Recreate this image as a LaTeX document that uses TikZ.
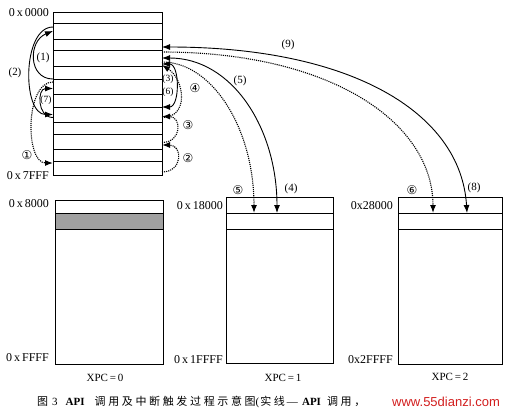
\documentclass[tikz,border=0pt]{standalone}
\usepackage{fontspec}
\setmainfont{Liberation Serif}
\newfontfamily\cjk[LetterSpace=24]{Noto Sans CJK SC}
\newfontfamily\circfont{DejaVu Sans}
\newfontfamily\webfont{Liberation Sans}
\usetikzlibrary{arrows.meta}
\definecolor{webred}{RGB}{210,30,30}
\definecolor{stipple}{RGB}{160,160,160}

\begin{document}
\begin{tikzpicture}[x=1pt,y=-1pt,
  >={Latex[length=8pt,width=6pt]},
  cell/.style={draw,line width=0.9pt,minimum width=109pt,inner sep=0pt,outer sep=0pt},
  slot/.style={draw,line width=0.9pt,anchor=north west,inner sep=0pt,outer sep=0pt},
  api/.style={->,line width=0.9pt},
  duo/.style={<->,line width=0.9pt},
  irq/.style={->,line width=1.1pt,densely dotted},
  addr/.style={anchor=east,inner sep=0pt,font=\fontsize{12}{14}\selectfont},
  num/.style={inner sep=0pt,font=\fontsize{11}{13}\selectfont},
  circ/.style={inner sep=0pt,font=\circfont\fontsize{12}{14}\selectfont}
]
\useasboundingbox (0,0) rectangle (512,416);

% page 0x0000-0x7FFF
\foreach \i/\yc/\h in {1/17.5/11,2/31/16,3/44.5/11,4/58/16,5/72.5/13,6/86.5/15,
  7/100.5/13,8/114.5/15,9/128/12,10/141.5/15,11/155/12,12/168/14}
  \node[cell,minimum height=\h pt] (r\i) at (107.5,\yc) {};

% banks XPC=0,1,2
\foreach \b/\x/\y/\w/\ha/\f/\hc in {0/55/200/108/13/stipple/135,
  1/226/197/107/16/white/134,2/398/197/104/16/white/135}{
  \node[slot,minimum width=\w pt,minimum height=\ha pt] (b\b-top) at (\x,\y) {};
  \node[slot,minimum width=\w pt,minimum height=16pt,fill=\f] (b\b-mid) at (b\b-top.south west) {};
  \node[slot,minimum width=\w pt,minimum height=\hc pt] (b\b-low) at (b\b-mid.south west) {};
}

\node[addr] (a1) at (49,13) {0\,x\,0000};
\node[addr] (a2) at (49,176) {0\,x\,7FFF};
\node[addr] (a3) at (49,204) {0\,x\,8000};
\node[addr] (a4) at (49,358) {0\,x\,FFFF};
\node[addr] (a5) at (223,206) {0\,x\,18000};
\node[addr] (a6) at (223,360) {0\,x\,1FFFF};
\node[addr] (a7) at (393,206) {0x28000};
\node[addr] (a8) at (393,360) {0x2FFFF};

\node[num] (x0) at (105,378) {XPC\,=\,0};
\node[num] (x1) at (283,378) {XPC\,=\,1};
\node[num] (x2) at (450,377) {XPC\,=\,2};

% left side
\draw[api] (r6.north west) .. controls +(-25,0) and +(-25,10) .. (r2.west);
\draw[api] ([yshift=-4pt]r2.north west) .. controls +(-31,0) and +(-31,0) .. (r8.west);
\draw[api] ([yshift=-3pt]r8.west) .. controls +(-16,0) and +(-16,0) .. ([yshift=-2pt]r6.west);
\draw[irq] ([yshift=-3pt]r6.north west) .. controls +(-28,0) and +(-28,0) .. ([yshift=-2pt]r12.north west);

% right side
\draw[irq] ([yshift=3pt]r12.south east) .. controls +(21,0) and +(21,0) .. ([yshift=4pt]r11.north east);
\draw[irq] ([yshift=-1pt]r10.east) .. controls +(20,0) and +(20,0) .. ([yshift=-2pt]r8.east);
\draw[irq] ([yshift=-3pt]r8.east) .. controls +(28,0) and +(22,14) .. ([yshift=1pt]r4.south east);
\draw[duo] (r8.north east) .. controls +(18,0) and +(18,0) .. ([yshift=2pt]r4.south east);

% to the banks
\draw[duo] ([yshift=3pt]r3.south east) .. controls +(190,0) and +(-6,-100) .. ([xshift=69pt]b2-top.south west);
\draw[irq] ([yshift=-2pt]r4.north east) .. controls +(170,0) and +(0,-90) .. ([xshift=35pt]b2-top.south west);
\draw[duo] (r4.east) .. controls +(70,0) and +(0,-85) .. ([xshift=51pt]b1-top.south west);
\draw[irq] ([yshift=4pt]r4.south east) .. controls +(50,0) and +(0,-85) .. ([xshift=28pt]b1-top.south west);

\node[num] (l1) at (43,58) {(1)};
\node[num] (l2) at (15,73) {(2)};
\node[num,font=\fontsize{9.5}{11}\selectfont] (l7) at (46,100) {(7)};
\node[circ] (c1) at (27,155) {①};
\node[num,font=\fontsize{9.5}{11}\selectfont] (l3) at (168,79) {(3)};
\node[num,font=\fontsize{9.5}{11}\selectfont] (l6) at (168,92) {(6)};
\node[circ] (c4) at (195,88) {④};
\node[circ] (c3) at (188,125) {③};
\node[circ] (c2) at (188,158) {②};
\node[num] (l9) at (288,45) {(9)};
\node[num] (l5) at (240,81) {(5)};
\node[circ] (c5) at (238,190) {⑤};
\node[num] (l4) at (291,189) {(4)};
\node[circ] (c6) at (412,190) {⑥};
\node[num] (l8) at (474,188) {(8)};

% caption
\node[anchor=west,inner sep=0pt,font=\fontsize{11}{13}\selectfont] (cap) at (37,402)
  {{\cjk 图}\hspace{4pt}3\hspace{8pt}\textbf{API}\hspace{10pt}{\cjk 调用及中断触发过程示意图}(\hspace{1pt}{\cjk 实线}\hspace{2pt}—\hspace{4pt}\textbf{API}\hspace{6pt}{\cjk 调用，}};
\node[anchor=west,inner sep=0pt,text=webred,font=\webfont\fontsize{13}{15}\selectfont] (web) at (392,402) {www.55dianzi.com};
\end{tikzpicture}
\end{document}
